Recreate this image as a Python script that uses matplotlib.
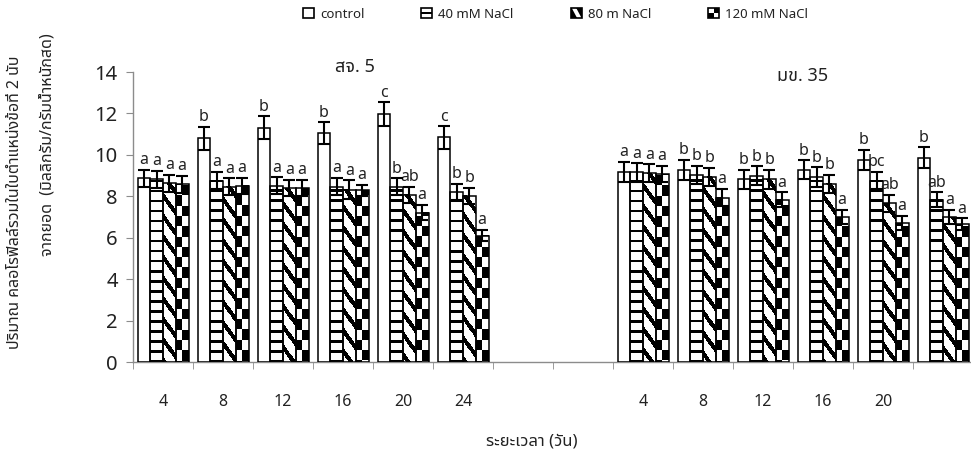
import numpy as np
import matplotlib
matplotlib.use('Agg')
import matplotlib.pyplot as plt
from matplotlib import font_manager, ft2font
from matplotlib.patches import Rectangle, Polygon
from matplotlib.legend_handler import HandlerBase

# ข้อมูล (อ่านจากกราฟ)
days_sj5 = ['4', '8', '12', '16', '20', '24']
days_mk35 = ['4', '8', '12', '16', '20', '']
treatments = ['control', '40 mM NaCl', '80 m NaCl', '120 mM NaCl']

sj5_control = [8.87, 10.80, 11.32, 11.05, 11.96, 10.84]
sj5_40 = [8.82, 8.76, 8.52, 8.47, 8.47, 8.20]
sj5_80 = [8.63, 8.47, 8.39, 8.31, 8.07, 8.02]
sj5_120 = [8.58, 8.50, 8.39, 8.28, 7.21, 6.10]

mk35_control = [9.19, 9.28, 8.82, 9.28, 9.76, 9.87]
mk35_40 = [9.15, 9.03, 8.99, 8.92, 8.76, 7.83]
mk35_80 = [9.12, 8.95, 8.82, 8.60, 7.66, 6.99]
mk35_120 = [9.07, 7.94, 7.83, 6.99, 6.70, 6.65]

sj5_control_err = [0.40, 0.55, 0.55, 0.53, 0.58, 0.55]
sj5_40_err = [0.40, 0.43, 0.40, 0.43, 0.40, 0.40]
sj5_80_err = [0.40, 0.40, 0.40, 0.46, 0.40, 0.40]
sj5_120_err = [0.40, 0.40, 0.40, 0.27, 0.37, 0.27]

mk35_control_err = [0.48, 0.48, 0.45, 0.45, 0.48, 0.50]
mk35_40_err = [0.45, 0.43, 0.45, 0.48, 0.43, 0.37]
mk35_80_err = [0.43, 0.43, 0.45, 0.43, 0.40, 0.35]
mk35_120_err = [0.40, 0.42, 0.37, 0.35, 0.35, 0.29]

sj5_control_let = ['a', 'b', 'b', 'b', 'c', 'c']
sj5_40_let = ['a', 'a', 'a', 'a', 'b', 'b']
sj5_80_let = ['a', 'a', 'a', 'a', 'ab', 'b']
sj5_120_let = ['a', 'a', 'a', 'a', 'a', 'a']

mk35_control_let = ['a', 'b', 'b', 'b', 'b', 'b']
mk35_40_let = ['a', 'b', 'b', 'b', 'bc', 'ab']
mk35_80_let = ['a', 'b', 'b', 'b', 'ab', 'a']
mk35_120_let = ['a', 'a', 'a', 'a', 'a', 'a']


def find_thai_font():
    pref = ['Noto Sans Thai', 'Noto Sans Thai UI', 'Sarabun', 'Loma', 'Garuda',
            'Waree', 'Umpush', 'Tlwg Typo', 'Kinnari', 'Norasi', 'Noto Sans Thai Looped']
    found = []
    for fe in font_manager.fontManager.ttflist:
        if fe.name in found:
            continue
        try:
            cmap = ft2font.FT2Font(fe.fname).get_charmap()
        except Exception:
            continue
        if 0x0E01 in cmap and 0x0E31 in cmap:
            found.append(fe.name)
    for p in pref:
        if p in found:
            return p
    return found[0] if found else None


thai = find_thai_font()
plt.rcParams['font.family'] = ['Noto Sans', 'DejaVu Sans']
thai_fam = [thai, 'Noto Sans', 'DejaVu Sans'] if thai else ['Noto Sans', 'DejaVu Sans']

W, H = 971, 454
fig = plt.figure(figsize=(W / 100, H / 100), dpi=100)
ax = fig.add_axes([133 / W, 92 / H, 840 / W, 290 / H])
ax.set_xlim(-0.5, 13.5)
ax.set_ylim(0, 14)

x = np.concatenate([np.arange(6), np.arange(8, 14)])
series = [sj5_control + mk35_control, sj5_40 + mk35_40,
          sj5_80 + mk35_80, sj5_120 + mk35_120]
errs = [sj5_control_err + mk35_control_err, sj5_40_err + mk35_40_err,
        sj5_80_err + mk35_80_err, sj5_120_err + mk35_120_err]
letters = [sj5_control_let + mk35_control_let, sj5_40_let + mk35_40_let,
           sj5_80_let + mk35_80_let, sj5_120_let + mk35_120_let]
kinds = [None, 'h', 'd', 'c']

bw = 0.2125
offs = (np.arange(4) - 1.5) * bw


def texture(kind, x0p, x1p, ytop, ybot):
    s = 3
    nx = max(1, int(round((x1p - x0p) * s)))
    ny = max(1, int(round((ybot - ytop) * s)))
    px = x0p + (np.arange(nx) + 0.5) / nx * (x1p - x0p)
    py = ytop + (np.arange(ny) + 0.5) / ny * (ybot - ytop)
    PX, PY = np.meshgrid(px, py)
    if kind == 'h':
        black = (PY % 10.0) < 2.6
    elif kind == 'd':
        black = ((PY - 1.43 * PX) % 20.5) < 7.0
    else:
        col = (PX - x0p) // ((x1p - x0p) / 2)
        row = PY // 10.3
        black = ((col + row) % 2) == 1
    return np.where(black, 0.0, 1.0)


for i in range(4):
    xs = x + offs[i]
    bars = ax.bar(xs, series[i], bw, color='white', edgecolor='none', zorder=1)
    if kinds[i] is not None:
        for b in bars:
            bx, bh, w = b.get_x(), b.get_height(), b.get_width()
            (d0x, d0y), (d1x, d1y) = ax.transData.transform([(bx, 0), (bx + w, bh)])
            img = texture(kinds[i], d0x, d1x, H - d1y, H - d0y)
            ax.imshow(img, extent=(bx, bx + w, 0, bh), cmap='gray', vmin=0, vmax=1,
                      interpolation='nearest', aspect='auto', origin='upper', zorder=2)
    ax.bar(xs, series[i], bw, fill=False, edgecolor='black', linewidth=1.1, zorder=3)
    ax.errorbar(xs, series[i], yerr=errs[i], fmt='none', ecolor='black',
                elinewidth=1.5, capsize=4.5, capthick=1.5, zorder=4)
    for xi, yi, ei, lt in zip(xs, series[i], errs[i], letters[i]):
        ax.annotate(lt, (xi, yi + ei), xytext=(0, 4), textcoords='offset points',
                    ha='center', va='baseline', fontsize=11.5, color='#222222')

ax.set_xlim(-0.5, 13.5)
ax.set_ylim(0, 14)
ax.set_yticks(np.arange(0, 15, 2))
ax.set_xticks(x)
ax.set_xticklabels(days_sj5 + days_mk35)
ax.set_xticks(np.arange(-0.5, 14, 1), minor=True)
for s in ['top', 'right']:
    ax.spines[s].set_visible(False)
for s in ['left', 'bottom']:
    ax.spines[s].set_color('#8c8c8c')
    ax.spines[s].set_linewidth(1.0)
ax.tick_params(axis='y', direction='out', length=5, color='#8c8c8c',
               labelsize=14.5, pad=6, labelcolor='#222222')
ax.tick_params(axis='x', which='major', length=0, pad=23, labelsize=11.5,
               labelcolor='#222222')
ax.tick_params(axis='x', which='minor', length=5, color='#8c8c8c')

# titles
fig.text(355 / W, 1 - 67 / H, 'สจ. 5', ha='center', va='center',
         family=thai_fam, fontsize=13, color='#222222')
fig.text(803 / W, 1 - 76 / H, 'มข. 35', ha='center', va='center',
         family=thai_fam, fontsize=13, color='#222222')
fig.text(532 / W, 1 - 442 / H, 'ระยะเวลา (วัน)', ha='center', va='center',
         family=thai_fam, fontsize=12, color='#222222')
fig.text(15 / W, 1 - 202 / H, 'ปริมาณ คลอโรฟิลล์รวมในใบตำแหน่งข้อที่ 2 นับ',
         rotation=90, ha='center', va='center', family=thai_fam, fontsize=11.5,
         color='#222222')
fig.text(48 / W, 1 - 145 / H, 'จากยอด  (มิลลิกรัม/กรัมน้ำหนักสด)',
         rotation=90, ha='center', va='center', family=thai_fam, fontsize=11.5,
         color='#222222')


class IconHandler(HandlerBase):
    def __init__(self, kind):
        super().__init__()
        self.kind = kind

    def create_artists(self, legend, orig_handle, xdescent, ydescent,
                       width, height, fontsize, trans):
        x0, y0, w, h = -xdescent, -ydescent, width, height
        arts = []
        if self.kind == 'd':
            arts.append(Rectangle((x0, y0), w, h, fc='black', ec='none'))
            arts.append(Polygon([(x0 + 0.05 * w, y0 + h), (x0 + 0.45 * w, y0 + h),
                                 (x0 + 0.95 * w, y0), (x0 + 0.55 * w, y0)],
                                closed=True, fc='white', ec='none'))
        elif self.kind == 'c':
            arts.append(Rectangle((x0, y0), w, h, fc='white', ec='none'))
            arts.append(Rectangle((x0 + w / 2, y0 + h / 2), w / 2, h / 2, fc='black', ec='none'))
            arts.append(Rectangle((x0, y0), w / 2, h / 2, fc='black', ec='none'))
        else:
            arts.append(Rectangle((x0, y0), w, h, fc='white', ec='none'))
            if self.kind == 'h':
                arts.append(Rectangle((x0, y0 + 0.38 * h), w, 0.24 * h, fc='black', ec='none'))
        arts.append(Rectangle((x0, y0), w, h, fill=False, ec='black', lw=1.2))
        for a in arts:
            a.set_transform(trans)
        return arts


legend_x = [303, 421, 571, 708]
for lab, kind, lx in zip(treatments, ['n', 'h', 'd', 'c'], legend_x):
    proxy = Rectangle((0, 0), 1, 1)
    fig.legend([proxy], [lab], handler_map={proxy: IconHandler(kind)},
               loc='center left', bbox_to_anchor=(lx / W, 1 - 14 / H),
               frameon=False, borderpad=0, borderaxespad=0, handlelength=0.85,
               handleheight=0.85, handletextpad=0.45, fontsize=9.5,
               labelcolor='#222222')

fig.savefig('out.png', dpi=100)
